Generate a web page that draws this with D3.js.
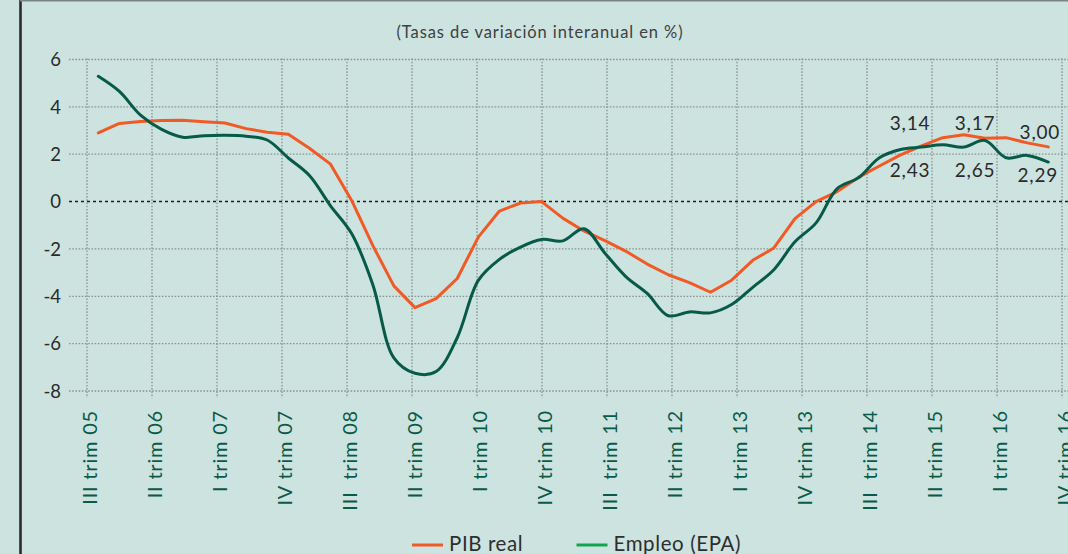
<!DOCTYPE html>
<html>
<head>
<meta charset="utf-8">
<script src="https://cdn.jsdelivr.net/npm/d3@7"></script>
<style>
  html, body { margin: 0; padding: 0; background: #cce3e0; }
  svg { display: block; font-family: Lato, "Open Sans", sans-serif; }
</style>
</head>
<body>
<div id="chart"></div>
<script>
// Quarterly series, III trim 05 .. IV trim 16 (46 quarters)
const pibReal = [
  2.9, 3.3, 3.38, 3.42, 3.43, 3.37, 3.32, 3.08, 2.93, 2.84,
  2.25, 1.58, 0.05, -1.85, -3.56, -4.48, -4.1, -3.25, -1.5, -0.4,
  -0.06, 0.0, -0.7, -1.24, -1.65, -2.1, -2.64, -3.09, -3.42, -3.83,
  -3.32, -2.48, -1.96, -0.72, 0.0, 0.42, 1.02, 1.5, 1.97, 2.35,
  2.7, 2.82, 2.67, 2.7, 2.48, 2.31
];
const empleoEPA = [
  5.29, 4.65, 3.65, 3.05, 2.72, 2.78, 2.8, 2.76, 2.6, 1.84,
  1.1, -0.18, -1.35, -3.5, -6.6, -7.25, -7.18, -5.75, -3.33, -2.44,
  -1.92, -1.6, -1.66, -1.15, -2.18, -3.18, -3.88, -4.82, -4.66, -4.7,
  -4.35, -3.62, -2.88, -1.7, -0.9, 0.55, 1.0, 1.85, 2.2, 2.3,
  2.4, 2.3, 2.58, 1.85, 1.95, 1.67
];
const tickLabels = [
  'III trim 05', 'II trim 06', 'I trim 07', 'IV trim 07', 'III  trim 08', 'II trim 09',
  'I trim 10', 'IV trim 10', 'III  trim 11', 'II trim 12', 'I trim 13', 'IV trim 13',
  'III  trim 14', 'II trim 15', 'I trim 16', 'IV trim 16'
];
const yTicks = [6, 4, 2, 0, -2, -4, -6, -8];
// value labels written on the chart: quarter index and height (in %)
const annotations = [
  { text: '3,14', q: 38.45, v: 3.01 },
  { text: '3,17', q: 41.53, v: 3.01 },
  { text: '3,00', q: 44.6, v: 2.66 },
  { text: '2,43', q: 38.45, v: 1.04 },
  { text: '2,65', q: 41.53, v: 1.04 },
  { text: '2,29', q: 44.5, v: 0.83 }
];
const series = [
  { name: 'PIB real', values: pibReal, color: '#f15a24', legend: '#f15a24', smooth: false },
  { name: 'Empleo (EPA)', values: empleoEPA, color: '#075a47', legend: '#13a452', smooth: true }
];

const width = 1068;
const height = 554;

const svg = d3.select('#chart').append('svg')
  .attr('width', width)
  .attr('height', height);

svg.append('rect')
  .attr('width', width)
  .attr('height', height)
  .attr('fill', '#cce3e0');

// frame pieces
svg.append('line')
  .attr('x1', 20.5).attr('x2', 20.5).attr('y1', 0).attr('y2', height)
  .attr('stroke', '#2b2b2b').attr('stroke-width', 2.6);
svg.append('line')
  .attr('x1', 20).attr('x2', width).attr('y1', 0.8).attr('y2', 0.8)
  .attr('stroke', '#7a8584').attr('stroke-width', 1.6);

const y = d3.scaleLinear().domain([-8, 6]).range([391, 59.5]);
const xData = d3.scaleLinear().domain([0, pibReal.length - 1]).range([98.3, 1048.3]);
const xLabel = d3.scalePoint().domain(tickLabels).range([87, 1062]);

// title
svg.append('text')
  .attr('x', 540)
  .attr('y', 38)
  .attr('text-anchor', 'middle')
  .attr('font-size', 16.5)
  .attr('letter-spacing', 0.9)
  .attr('fill', '#404040')
  .text('(Tasas de variación interanual en %)');

// horizontal grid
const grid = svg.append('g');
grid.selectAll('line.h')
  .data(yTicks.filter(d => d !== 0))
  .enter().append('line')
  .attr('class', 'h')
  .attr('x1', 69).attr('x2', width)
  .attr('y1', d => y(d)).attr('y2', d => y(d))
  .attr('stroke', '#8c9493')
  .attr('stroke-width', 1.3)
  .attr('stroke-dasharray', '1.6,1.6');

// vertical grid
grid.selectAll('line.v')
  .data(tickLabels)
  .enter().append('line')
  .attr('class', 'v')
  .attr('x1', d => xLabel(d)).attr('x2', d => xLabel(d))
  .attr('y1', y(6) - 1).attr('y2', y(-8) + 7)
  .attr('stroke', '#8c9493')
  .attr('stroke-width', 1.3)
  .attr('stroke-dasharray', '1.6,1.6');

// zero line
grid.append('line')
  .attr('x1', 69).attr('x2', width)
  .attr('y1', y(0)).attr('y2', y(0))
  .attr('stroke', '#1e1e1e')
  .attr('stroke-width', 1.5)
  .attr('stroke-dasharray', '3,3');

// y labels
svg.append('g').selectAll('text')
  .data(yTicks)
  .enter().append('text')
  .attr('x', 61)
  .attr('y', d => y(d))
  .attr('dy', '0.36em')
  .attr('text-anchor', 'end')
  .attr('font-size', 18.5)
  .attr('fill', '#2a2a2a')
  .text(d => String(d));

// x labels
svg.append('g').selectAll('text')
  .data(tickLabels)
  .enter().append('text')
  .attr('transform', d => `translate(${xLabel(d)},410) rotate(-90)`)
  .attr('dy', '0.5em')
  .attr('text-anchor', 'end')
  .attr('font-size', 20)
  .attr('letter-spacing', 0.8)
  .attr('fill', '#0a5a48')
  .style('white-space', 'pre')
  .text(d => d);

// lines
series.forEach(s => {
  const line = d3.line()
    .x((d, i) => xData(i))
    .y(d => y(d))
    .curve(s.smooth ? d3.curveCatmullRom.alpha(0.5) : d3.curveLinear);
  svg.append('path')
    .datum(s.values)
    .attr('d', line)
    .attr('fill', 'none')
    .attr('stroke', s.color)
    .attr('stroke-width', 3)
    .attr('stroke-linejoin', 'round')
    .attr('stroke-linecap', 'round');
});

// value labels
svg.append('g').selectAll('text')
  .data(annotations)
  .enter().append('text')
  .attr('x', d => xData(d.q))
  .attr('y', d => y(d.v))
  .attr('text-anchor', 'middle')
  .attr('font-size', 19)
  .attr('letter-spacing', 0.8)
  .attr('fill', '#2a2a2a')
  .text(d => d.text);

// legend
const legendX = [412, 576.5];
const legend = svg.append('g');
series.forEach((s, i) => {
  legend.append('line')
    .attr('x1', legendX[i]).attr('x2', legendX[i] + 31)
    .attr('y1', 545).attr('y2', 545)
    .attr('stroke', s.legend)
    .attr('stroke-width', 3);
  legend.append('text')
    .attr('x', legendX[i] + 37)
    .attr('y', 551)
    .attr('font-size', 20.5)
    .attr('letter-spacing', 0.6)
    .attr('fill', '#2e2e2e')
    .text(s.name);
});
</script>
</body>
</html>
